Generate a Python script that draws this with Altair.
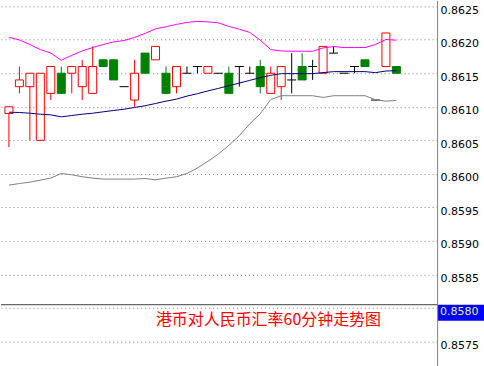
import altair as alt
import pandas as pd

# ---- candle data (60-minute bars) ----
opens = [0.8609, 0.8613, 0.8613, 0.8605, 0.8612, 0.8615, 0.8615, 0.8613, 0.8612, 0.8617,
         0.8617, 0.8613, 0.8611, 0.8618, 0.8617, 0.8615, 0.8613, 0.8615, 0.8616, 0.8615,
         0.8615, 0.8615, 0.8616, 0.8615, 0.8616, 0.8612, 0.8613, 0.8614, 0.8616, 0.8616,
         0.8615, 0.8618, 0.8615, 0.8616, 0.8617, 0.8611, 0.8616, 0.8616]
highs = [0.8610, 0.8616, 0.8615, 0.8615, 0.8616, 0.8616, 0.8616, 0.8617, 0.8619, 0.8617,
         0.8617, 0.8613, 0.8617, 0.8618, 0.8619, 0.8616, 0.8616, 0.8616, 0.8616, 0.8616,
         0.8615, 0.8616, 0.8616, 0.8616, 0.8617, 0.8616, 0.8616, 0.8618, 0.8618, 0.8617,
         0.8619, 0.8619, 0.8615, 0.8616, 0.8617, 0.8611, 0.8621, 0.8616]
lows = [0.8604, 0.8612, 0.8605, 0.8605, 0.8611, 0.8612, 0.8612, 0.8611, 0.8612, 0.8616,
        0.8614, 0.8613, 0.8610, 0.8615, 0.8617, 0.8612, 0.8612, 0.8615, 0.8615, 0.8615,
        0.8615, 0.8612, 0.8613, 0.8615, 0.8612, 0.8612, 0.8611, 0.8612, 0.8614, 0.8614,
        0.8615, 0.8618, 0.8615, 0.8615, 0.8616, 0.8611, 0.8616, 0.8615]
closes = [0.8610, 0.8614, 0.8615, 0.8615, 0.8616, 0.8612, 0.8616, 0.8616, 0.8616, 0.8616,
          0.8614, 0.8613, 0.8615, 0.8615, 0.8619, 0.8612, 0.8616, 0.8615, 0.8616, 0.8616,
          0.8615, 0.8612, 0.8616, 0.8615, 0.8613, 0.8615, 0.8616, 0.8614, 0.8614, 0.8616,
          0.8619, 0.8618, 0.8615, 0.8616, 0.8616, 0.8611, 0.8621, 0.8615]

# ---- Bollinger bands ----
upper = [0.862037, 0.861997, 0.861928, 0.861853, 0.861802, 0.861693, 0.861768, 0.861832,
         0.861883, 0.861928, 0.861967, 0.861988, 0.862033, 0.862093, 0.862162, 0.862192,
         0.862228, 0.862257, 0.862272, 0.862266, 0.862251, 0.862198, 0.862157, 0.862108,
         0.861993, 0.861853, 0.861832, 0.861828, 0.861828, 0.861828, 0.861877, 0.861898,
         0.861883, 0.861883, 0.861883, 0.861928, 0.862003, 0.861993]
middle = [0.860919, 0.860915, 0.860904, 0.860889, 0.860880, 0.860850, 0.860870, 0.860889,
          0.860904, 0.860925, 0.860945, 0.860964, 0.860990, 0.861015, 0.861049, 0.861084,
          0.861114, 0.861159, 0.861195, 0.861237, 0.861274, 0.861314, 0.861353, 0.861394,
          0.861434, 0.861469, 0.861494, 0.861494, 0.861494, 0.861494, 0.861509, 0.861524,
          0.861524, 0.861524, 0.861524, 0.861509, 0.861533, 0.861539]
lower = [0.859832, 0.859856, 0.859877, 0.859907, 0.859937, 0.860006, 0.859987, 0.859957,
         0.859937, 0.859922, 0.859922, 0.859922, 0.859922, 0.859931, 0.859912, 0.859937,
         0.859957, 0.860006, 0.860087, 0.860186, 0.860296, 0.860425, 0.860570, 0.860746,
         0.860895, 0.861109, 0.861165, 0.861165, 0.861165, 0.861165, 0.861139, 0.861165,
         0.861165, 0.861165, 0.861165, 0.861105, 0.861084, 0.861094]

tick_values = [0.8575, 0.8580, 0.8585, 0.8590, 0.8595, 0.8600, 0.8605, 0.8610, 0.8615, 0.8620, 0.8625]
price_line = [0.85805]
price_label = ["0.8580"]
title_text = ["港币对人民币汇率60分钟走势图"]

idx = list(range(len(opens)))
kinds = ["up" if c > o else ("down" if c < o else "flat") for o, c in zip(opens, closes)]
df = pd.DataFrame({"i": idx, "open": opens, "high": highs, "low": lows, "close": closes, "kind": kinds})
bands = pd.DataFrame({"i": idx, "upper": upper, "middle": middle, "lower": lower})

xs = alt.Scale(domain=[-0.28, 40.41], nice=False, zero=False)
ys = alt.Scale(domain=[0.857142, 0.862586], nice=False, zero=False)
X = alt.X("i:Q", scale=xs, axis=None)

yaxis = alt.Axis(
    orient="right", values=tick_values, grid=True, gridColor="#808080", gridDash=[1, 3],
    gridOpacity=1, domainColor="#808080", ticks=False, labelFont="DejaVu Sans",
    labelFontSize=11, labelColor="black", labelPadding=3, labelOffset=4,
    labelFlush=False, labelOverlap=False, labelBound=False, title=None,
    labelExpr="abs(datum.value - 0.858) < 1e-7 ? '' : format(datum.value, '.4f')",
)


def Y(field):
    return alt.Y(field, scale=ys, axis=yaxis)


base = alt.Chart(df)
kind_scale = alt.Scale(domain=["up", "down", "flat"], range=["#ff0000", "#008000", "#000000"])

wicks = base.mark_rule(strokeWidth=1, clip=True).encode(
    x=X, y=Y("low:Q"), y2="high:Q",
    color=alt.Color("kind:N", scale=kind_scale, legend=None),
)
body_up = base.transform_filter("datum.kind == 'up'").mark_bar(
    size=8, fill="white", stroke="#ff0000", strokeWidth=1, clip=True
).encode(x=X, y=Y("open:Q"), y2="close:Q")
body_down = base.transform_filter("datum.kind == 'down'").mark_bar(
    size=8, fill="#008000", stroke="#008000", strokeWidth=1, clip=True
).encode(x=X, y=Y("open:Q"), y2="close:Q")
doji = base.transform_filter("datum.kind == 'flat'").mark_rule(
    color="black", strokeWidth=1, xOffset=-4.5, x2Offset=4.5, clip=True
).encode(x=X, x2="i:Q", y=Y("close:Q"))

bbase = alt.Chart(bands)
line_up = bbase.mark_line(strokeWidth=1, color="#ff00ff", clip=True).encode(x=X, y=Y("upper:Q"))
line_mid = bbase.mark_line(strokeWidth=1, color="#000080", clip=True).encode(x=X, y=Y("middle:Q"))
line_low = bbase.mark_line(strokeWidth=1, color="#808080", clip=True).encode(x=X, y=Y("lower:Q"))

pdf = pd.DataFrame({"p": price_line, "lab": price_label})
price_rule = alt.Chart(pdf).mark_rule(color="#404040", strokeWidth=1).encode(y=Y("p:Q"))
price_box = alt.Chart(pdf).mark_rect(color="#0000ff").encode(
    x=alt.value(438), x2=alt.value(484), y=Y("p:Q"), y2=alt.value(321))
price_text = alt.Chart(pdf).mark_text(
    align="left", baseline="middle", font="DejaVu Sans", fontSize=11, color="#e0f070", dy=7
).encode(x=alt.value(440), y=Y("p:Q"), text="lab:N")

tdf = pd.DataFrame({"t": title_text})
title = alt.Chart(tdf).mark_text(
    font="Noto Sans CJK SC", fontSize=16, color="#ff0000", align="center", baseline="middle"
).encode(x=alt.value(268), y=alt.value(320), text="t:N")

chart = alt.layer(
    wicks, body_up, body_down, doji, line_up, line_mid, line_low,
    price_rule, price_box, price_text, title
).properties(width=437, height=366, padding=0, background="white").configure_view(
    stroke=None
).configure_axis(labelOverlap=False)

chart.save("out.html", embed_options={"renderer": "svg", "actions": False})
